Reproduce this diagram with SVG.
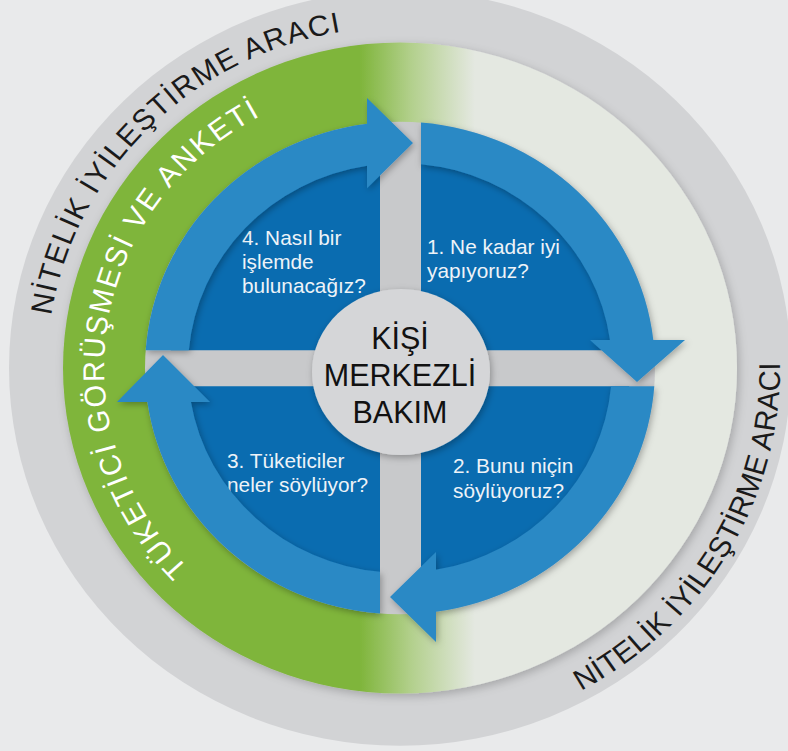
<svg xmlns="http://www.w3.org/2000/svg" width="788" height="751" viewBox="0 0 788 751">
<defs>
<style>
.bg{fill:#e9eaeb}
.ring{fill:#d2d3d5}
.hub{fill:#c8c9cb}
.dark{fill:#0a6cb0}
.arc{fill:#2b89c5}
.disc{fill:#d5d6d8}
.q{font-family:"Liberation Sans",Arial,sans-serif;font-size:20.8px;fill:#eef3f8}
.c{font-family:"Liberation Sans",Arial,sans-serif;font-size:30.5px;fill:#111111;text-anchor:middle}
.ot{font-family:"Liberation Sans",Arial,sans-serif;font-size:30px;fill:#1a1a1a;text-anchor:middle}
.gt{font-family:"Liberation Sans",Arial,sans-serif;font-size:30px;fill:#ffffff;text-anchor:middle}
</style>
<linearGradient id="gr" gradientUnits="userSpaceOnUse" x1="-40" y1="0" x2="75" y2="0">
<stop offset="0" stop-color="#7fb53b"/>
<stop offset="0.45" stop-color="#b3d08d"/>
<stop offset="1" stop-color="#e4e8e1"/>
</linearGradient>
<filter id="sh" x="-20%" y="-20%" width="140%" height="140%">
<feDropShadow dx="1.5" dy="2.5" stdDeviation="3.5" flood-color="#000000" flood-opacity="0.3"/>
</filter>
<filter id="sh2" x="-10%" y="-10%" width="120%" height="120%">
<feDropShadow dx="2" dy="3" stdDeviation="5" flood-color="#000000" flood-opacity="0.22"/>
</filter>
<path id="ptl" d="M -331.7,120.7 A 353 353 0 0 1 176.5,-305.7"/>
<path id="pbr" d="M -66,374.2 A 380 380 0 0 0 291.1,-244.3"/>
<path id="pgr" d="M -148,256.3 A 296 296 0 0 1 -51.4,-291.5"/>
</defs>

<rect class="bg" x="0" y="0" width="788" height="751"/>

<g id="ring-outer" transform="matrix(1,0,0,0.966,400,368)">
<circle class="ring" cx="0" cy="0" r="391"/>
<text class="ot" letter-spacing="1.4"><textPath href="#ptl" startOffset="398.6">NİTELİK İYİLEŞTİRME ARACI</textPath></text>
<text class="ot" font-size="29" letter-spacing="0.3"><textPath href="#pbr" startOffset="461.9">NİTELİK İYİLEŞTİRME ARACI</textPath></text>
</g>

<g id="ring-green" transform="matrix(1,0,0,0.966,400,368)">
<circle cx="0" cy="0" r="337" fill="url(#gr)" filter="url(#sh2)"/>
<text class="gt" letter-spacing="2.1"><textPath href="#pgr" startOffset="355.7">TÜKETİCİ GÖRÜŞMESİ VE ANKETİ</textPath></text>
</g>

<g id="hub" transform="matrix(1,0,0,0.966,400,368)">
<circle class="hub" cx="0" cy="0" r="255"/>
</g>

<g id="q1">
<path class="dark" transform="matrix(1,0,0,0.966,400,368)" d="M 21,-18.5 L 21,-229 A 230 230 0 0 1 229.3,-18.5 Z"/>
<text class="q"><tspan x="427" y="254">1. Ne kadar iyi</tspan><tspan x="427" y="278">yapıyoruz?</tspan></text>
</g>
<g id="q2">
<path class="dark" transform="matrix(1,0,0,0.966,400,368)" d="M 229.2,19 A 230 230 0 0 1 21,229 L 21,19 Z"/>
<text class="q"><tspan x="453" y="473">2. Bunu niçin</tspan><tspan x="453" y="497.5">söylüyoruz?</tspan></text>
</g>
<g id="q3">
<path class="dark" transform="matrix(1,0,0,0.966,400,368)" d="M -20,19 L -20,229.1 A 230 230 0 0 1 -229.2,19 Z"/>
<text class="q"><tspan x="227" y="468">3. Tüketiciler</tspan><tspan x="227" y="492">neler söylüyor?</tspan></text>
</g>
<g id="q4">
<path class="dark" transform="matrix(1,0,0,0.966,400,368)" d="M -20,-18.5 L -229.3,-18.5 A 230 230 0 0 1 -20,-229.1 Z"/>
<text class="q"><tspan x="242" y="245">4. Nasıl bir</tspan><tspan x="242" y="269">işlemde</tspan><tspan x="242" y="293">bulunacağız?</tspan></text>
</g>

<g id="connectors" transform="matrix(1,0,0,0.966,400,368)" filter="url(#sh)">
<path class="arc" d="M 21,-254.1 A 255 255 0 0 1 253.3,-29 L 285,-29 L 237,14.5 L 190,-29 L 210,-29 A 212 212 0 0 0 21,-211 Z"/>
<path class="arc" d="M 254.3,19 A 255 255 0 0 1 36,252.4 L 36,283.6 L -10,237 L 36,190.5 L 36,208.9 A 212 212 0 0 0 211.1,19 Z"/>
<path class="arc" d="M -20,254.2 A 255 255 0 0 1 -252.6,35.2 L -283,35.2 L -237,-13.5 L -190,35.2 L -209.1,35.2 A 212 212 0 0 0 -20,211.05 Z"/>
<path class="arc" d="M -254.3,-18.5 A 255 255 0 0 1 -33,-252.9 L -33,-279.5 L 13,-233 L -33,-186 L -33,-209.4 A 212 212 0 0 0 -211.2,-18.5 Z"/>
</g>

<g id="center">
<ellipse class="disc" cx="401" cy="372" rx="89" ry="83" filter="url(#sh)"/>
<text class="c"><tspan x="400" y="349">KİŞİ</tspan><tspan x="400" y="386">MERKEZLİ</tspan><tspan x="400" y="422.5">BAKIM</tspan></text>
</g>
</svg>
